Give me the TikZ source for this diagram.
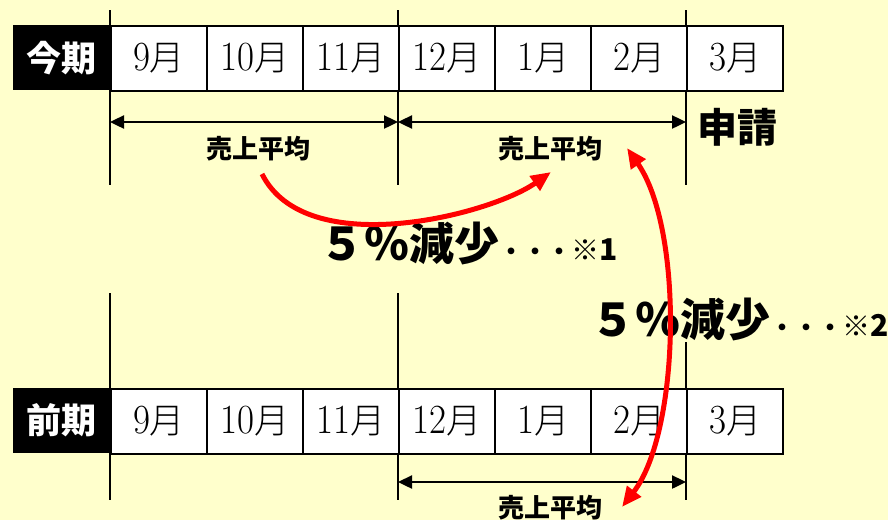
\documentclass[tikz,border=0pt]{standalone}
\usepackage{fontspec}
\usetikzlibrary{arrows.meta}
\newfontfamily\jp{Noto Sans CJK JP}
\newfontfamily\jpl{Noto Sans CJK JP Light}
\definecolor{bgyellow}{RGB}{255,255,204}
\newcommand{\mon}[1]{{\fontsize{37}{37}\selectfont\scalebox{1}[1.12]{#1}{\jpl\fontsize{35}{35}\selectfont 月}}}
\newcommand{\tail}[1]{{\fontsize{24}{24}\selectfont ・・・}{\fontsize{28}{28}\selectfont ※}{\fontsize{30}{30}\selectfont #1}}
\tikzset{
  cell/.style={draw=black, line width=2pt, fill=white, minimum width=96pt, minimum height=65pt, inner sep=0pt, anchor=north west},
  lab/.style={fill=black, text=white, minimum width=97pt, minimum height=65pt, inner sep=0pt, anchor=north west, font=\jp\bfseries\fontsize{35}{35}\selectfont},
  grid/.style={line width=2pt},
  span/.style={line width=2.4pt, {Triangle[length=14pt,width=13pt]}-{Triangle[length=14pt,width=13pt]}},
  avg/.style={font=\jp\bfseries\fontsize{26}{26}\selectfont, inner sep=0pt},
  redarr/.style={red, line width=5pt, -{Triangle[length=20pt,width=17pt]}},
  redarrb/.style={red, line width=5pt, {Triangle[length=20pt,width=17pt]}-{Triangle[length=20pt,width=17pt]}},
  dec/.style={inner sep=1pt, fill=bgyellow, font=\jp\bfseries},
}
\begin{document}
\begin{tikzpicture}[x=1pt,y=-1pt]
\useasboundingbox[fill=bgyellow] (0,0) rectangle (888,520);
% top vertical lines
\coordinate (t1a) at (110,10); \coordinate (t1b) at (110,185);
\coordinate (t2a) at (398,10); \coordinate (t2b) at (398,185);
\coordinate (t3a) at (686,10); \coordinate (t3b) at (686,185);
\draw[grid] (t1a) -- (t1b);
\draw[grid] (t2a) -- (t2b);
\draw[grid] (t3a) -- (t3b);
% bottom vertical lines
\coordinate (b1a) at (110,293); \coordinate (b1b) at (110,500);
\coordinate (b2a) at (398,293); \coordinate (b2b) at (398,500);
\coordinate (b3a) at (686,300); \coordinate (b3b) at (686,500);
\draw[grid] (b1a) -- (b1b);
\draw[grid] (b2a) -- (b2b);
\draw[line width=1.5pt] (b3a) -- (b3b);
% top row
\node[lab] (tl) at (13,25) {今期};
\foreach \m [count=\i from 0] in {9,10,11,12,1,2,3}{
  \node[cell] (tc\i) at ({110+96*\i},25) {\mon{\m}};
}
% bottom row
\node[lab] (bl) at (13,388) {前期};
\foreach \m [count=\i from 0] in {9,10,11,12,1,2,3}{
  \node[cell] (bc\i) at ({110+96*\i},388) {\mon{\m}};
}
% spans
\coordinate (s1) at (110,122); \coordinate (s2) at (398,122); \coordinate (s3) at (686,122);
\draw[span] (s1) -- (s2);
\draw[span] (s2) -- (s3);
\coordinate (s4) at (398,482); \coordinate (s5) at (686,482);
\draw[span] (s4) -- (s5);
\node[avg] (avg1) at (258,149) {売上平均};
\node[avg] (avg2) at (550,149) {売上平均};
\node[avg] (avg3) at (550,508) {売上平均};
\node[font=\jp\bfseries\fontsize{40}{40}\selectfont, inner sep=0pt] (shin) at (737,127) {申請};
% decrease labels
\node[dec, anchor=west] (d1) at (318,243) {{\fontsize{45}{45}\selectfont ５％減少}\tail{1}};
\node[dec, anchor=west] (d2) at (589,319) {{\fontsize{45}{45}\selectfont ５％減少}\tail{2}};
% red arrows
\coordinate (r1s) at (262,174); \coordinate (r1e) at (551,172);
\draw[redarr] (r1s) .. controls (306,262) and (490,215) .. (r1e);
\coordinate (r2s) at (627,148); \coordinate (r2e) at (622,507);
\draw[redarrb] (r2s) .. controls (684,230) and (680,432) .. (r2e);
\end{tikzpicture}
\end{document}
